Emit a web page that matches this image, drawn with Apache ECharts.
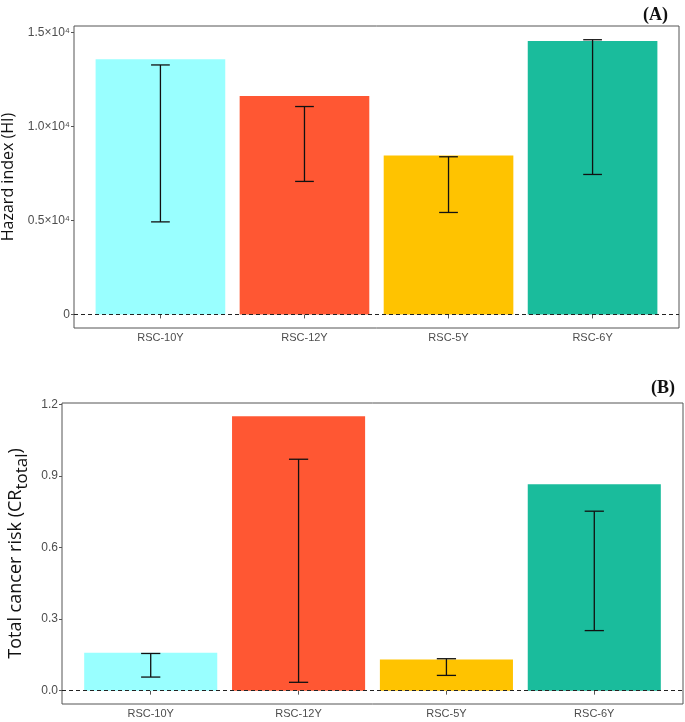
<!DOCTYPE html>
<html>
<head>
<meta charset="utf-8">
<script src="https://cdn.jsdelivr.net/npm/echarts@6/dist/echarts.min.js"></script>
<style>html,body{margin:0;padding:0;background:#fff}#c{width:685px;height:722px}</style>
</head>
<body>
<div id="c"></div>
<script>
const categories = ['RSC-10Y', 'RSC-12Y', 'RSC-5Y', 'RSC-6Y'];
const barColors = ['#99FFFF', '#FF5733', '#FFC300', '#1ABC9C'];
// Panel A: Hazard index
const hiValues = [13560, 11610, 8450, 14530];
const hiLow = [4920, 7070, 5420, 7440];
const hiHigh = [13260, 11050, 8380, 14600];
const hiTicks = [0, 5000, 10000, 15000];
// Panel B: Total cancer risk
const crValues = [0.159, 1.151, 0.131, 0.866];
const crLow = [0.057, 0.035, 0.064, 0.252];
const crHigh = [0.156, 0.971, 0.134, 0.753];
const crTicks = [0, 0.3, 0.6, 0.9, 1.2];

const xPos = categories.map((c, i) => i + 1);

function barSeries(values, idx) {
  return {
    type: 'custom', xAxisIndex: idx, yAxisIndex: idx,
    data: values.map((v, i) => [xPos[i], v, i]),
    renderItem: function (params, api) {
      const x = api.value(0), y = api.value(1), ci = api.value(2);
      const p0 = api.coord([x, 0]);
      const p1 = api.coord([x, y]);
      const w = api.size([0.9, 0])[0];
      return {
        type: 'rect',
        shape: { x: p0[0] - w / 2, y: p1[1], width: w, height: p0[1] - p1[1] },
        style: { fill: barColors[ci] }
      };
    },
    markLine: {
      silent: true, symbol: 'none', label: { show: false },
      lineStyle: { color: '#222', type: [4, 3], width: 1.2 },
      data: [{ yAxis: 0 }]
    },
    z: 2
  };
}

function errSeries(low, high, idx) {
  return {
    type: 'custom', xAxisIndex: idx, yAxisIndex: idx,
    data: low.map((v, i) => [xPos[i], v, high[i]]),
    renderItem: function (params, api) {
      const x = api.value(0);
      const pl = api.coord([x, api.value(1)]);
      const ph = api.coord([x, api.value(2)]);
      const cw = api.size([0.13, 0])[0];
      const st = { stroke: '#111', lineWidth: 1.3, fill: null };
      return {
        type: 'group',
        children: [
          { type: 'line', shape: { x1: pl[0], y1: pl[1], x2: ph[0], y2: ph[1] }, style: st },
          { type: 'line', shape: { x1: pl[0] - cw / 2, y1: pl[1], x2: pl[0] + cw / 2, y2: pl[1] }, style: st },
          { type: 'line', shape: { x1: ph[0] - cw / 2, y1: ph[1], x2: ph[0] + cw / 2, y2: ph[1] }, style: st }
        ]
      };
    },
    z: 3
  };
}

function xAxisDef(idx) {
  return {
    type: 'value', gridIndex: idx, min: 0.4, max: 4.6,
    splitLine: { show: false },
    axisLine: { show: false },
    axisTick: { show: true, length: 4, customValues: xPos, lineStyle: { color: '#555' } },
    axisLabel: {
      customValues: xPos, color: '#4D4D4D', fontSize: 11, fontFamily: 'Liberation Sans', margin: 4,
      formatter: v => categories[Math.round(v) - 1]
    }
  };
}

const option = {
  animation: false,
  backgroundColor: '#fff',
  title: [
    { text: '(A)', right: 12, top: 1, textStyle: { fontFamily: 'Liberation Serif', fontWeight: 'bold', fontSize: 18, color: '#111' } },
    { text: '(B)', right: 5, top: 374, textStyle: { fontFamily: 'Liberation Serif', fontWeight: 'bold', fontSize: 18, color: '#111' } }
  ],
  grid: [
    { left: 74, top: 26, width: 605, height: 302, outerBoundsMode: 'none', containLabel: false, show: true, borderColor: '#555', borderWidth: 1, backgroundColor: 'transparent' },
    { left: 62, top: 403, width: 621, height: 301, outerBoundsMode: 'none', containLabel: false, show: true, borderColor: '#555', borderWidth: 1, backgroundColor: 'transparent' }
  ],
  xAxis: [xAxisDef(0), xAxisDef(1)],
  yAxis: [
    {
      type: 'value', gridIndex: 0, min: -720, max: 15330,
      splitLine: { show: false }, axisLine: { show: false },
      axisTick: { show: true, length: 3, customValues: hiTicks, lineStyle: { color: '#555' } },
      axisLabel: {
        customValues: hiTicks, margin: 4, color: '#4D4D4D', fontSize: 12, fontFamily: 'Liberation Sans',
        formatter: v => v === 0 ? '0' : (v / 10000).toFixed(1) + '×10⁴'
      },
      name: 'Hazard index (HI)', nameLocation: 'middle', nameGap: 51, nameRotate: 90,
      nameTextStyle: { fontFamily: 'Open Sans', fontSize: 16, color: '#111' }
    },
    {
      type: 'value', gridIndex: 1, min: -0.056, max: 1.207,
      splitLine: { show: false }, axisLine: { show: false },
      axisTick: { show: true, length: 3, customValues: crTicks, lineStyle: { color: '#555' } },
      axisLabel: {
        customValues: crTicks, margin: 4, color: '#4D4D4D', fontSize: 12, fontFamily: 'Liberation Sans',
        formatter: v => v.toFixed(1)
      },
      name: '{n|Total cancer risk (CR}{sub|total}{n|)}', nameLocation: 'middle', nameGap: 22, nameRotate: 90,
      nameTextStyle: {
        rich: {
          n: { fontFamily: 'Open Sans', fontSize: 18, color: '#111', lineHeight: 24, verticalAlign: 'top' },
          sub: { fontFamily: 'Open Sans', fontSize: 17, color: '#111', lineHeight: 24, verticalAlign: 'bottom' }
        }
      }
    }
  ],
  series: [
    barSeries(hiValues, 0), errSeries(hiLow, hiHigh, 0),
    barSeries(crValues, 1), errSeries(crLow, crHigh, 1)
  ]
};

const chart = echarts.init(document.getElementById('c'), null, { renderer: 'canvas' });
chart.setOption(option);
</script>
</body>
</html>
